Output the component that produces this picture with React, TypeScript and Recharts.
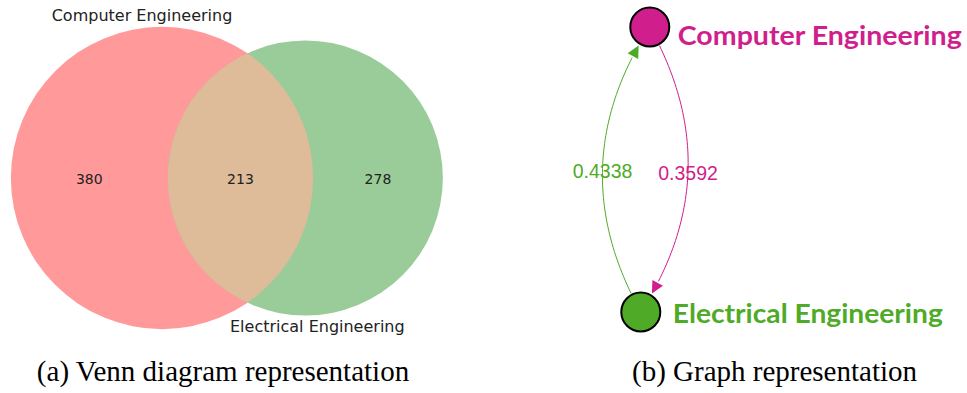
import { ReferenceLine, Scatter, ScatterChart, XAxis, YAxis } from "recharts";

// Set sizes for the Venn diagram
const setNames = ["Computer Engineering", "Electrical Engineering"];
const onlyComputer = 380;
const onlyElectrical = 278;
const bothSets = 213;

// Directed graph: nodes and weighted edges
const graphNodes = [
  { id: "Computer Engineering", x: 0.03, y: 1 },
  { id: "Electrical Engineering", x: -0.033, y: -1 },
];
const graphEdges = [
  { source: "Electrical Engineering", target: "Computer Engineering", weight: 0.4338 },
  { source: "Computer Engineering", target: "Electrical Engineering", weight: 0.3592 },
];

const MAGENTA = "#d01f8c";
const GREEN = "#4fab27";

// ---------- Venn geometry (area proportional circles) ----------
const rA = Math.sqrt((onlyComputer + bothSets) / Math.PI);
const rB = Math.sqrt((onlyElectrical + bothSets) / Math.PI);

function lensArea(d: number, r1: number, r2: number) {
  if (d >= r1 + r2) return 0;
  if (d <= Math.abs(r1 - r2)) return Math.PI * Math.min(r1, r2) ** 2;
  const a1 = Math.acos((d * d + r1 * r1 - r2 * r2) / (2 * d * r1));
  const a2 = Math.acos((d * d + r2 * r2 - r1 * r1) / (2 * d * r2));
  const k = Math.sqrt((-d + r1 + r2) * (d + r1 - r2) * (d - r1 + r2) * (d + r1 + r2));
  return r1 * r1 * a1 + r2 * r2 * a2 - 0.5 * k;
}

// bisection for the centre distance that gives the shared area
function solveDistance() {
  let lo = Math.abs(rA - rB);
  let hi = rA + rB;
  for (let i = 0; i < 80; i++) {
    const mid = (lo + hi) / 2;
    if (lensArea(mid, rA, rB) > bothSets) lo = mid;
    else hi = mid;
  }
  return (lo + hi) / 2;
}
const dist = solveDistance();

const vennCircles = [
  { name: setNames[0], x: 0, y: 0, r: rA, fill: "#ff999a" },
  { name: setNames[1], x: dist, y: 0, r: rB, fill: "#99cc99" },
];
const vennOverlap = [{ x: dist, y: 0, r: rB, fill: "#debb99" }];
const vennCounts = [
  { x: (-rA + dist - rB) / 2, y: 0, value: onlyComputer },
  { x: (dist - rB + rA) / 2, y: 0, value: bothSets },
  { x: (rA + dist + rB) / 2, y: 0, value: onlyElectrical },
];

const VENN_W = 460;
const VENN_H = 345;
const PX = 11; // pixels per data unit
const vennX: [number, number] = [-162 / PX, (VENN_W - 162) / PX];
const vennY: [number, number] = [-(VENN_H - 178) / PX, 178 / PX];

const VennCircle = (props: any) => {
  const { cx, cy, payload } = props;
  const r = payload.r * PX;
  const isA = payload.name === setNames[0];
  return (
    <g>
      {isA && (
        <defs>
          <clipPath id="venn-clip-a">
            <circle cx={cx} cy={cy} r={r} />
          </clipPath>
        </defs>
      )}
      <circle cx={cx} cy={cy} r={r} fill={payload.fill} />
      <text
        x={isA ? cx - 20 : cx + 12}
        y={isA ? cy - r - 6 : cy + r + 16}
        textAnchor="middle"
        fontFamily="DejaVu Sans"
        fontSize={16}
        fill="#222"
      >
        {payload.name}
      </text>
    </g>
  );
};

const VennLens = (props: any) => {
  const { cx, cy, payload } = props;
  return (
    <circle cx={cx} cy={cy} r={payload.r * PX} fill={payload.fill} clipPath="url(#venn-clip-a)" />
  );
};

const VennCount = (props: any) => (
  <text
    x={props.cx}
    y={props.cy}
    dy={5.5}
    textAnchor="middle"
    fontFamily="DejaVu Sans"
    fontSize={14}
    fill="#222"
  >
    {props.payload.value}
  </text>
);

// ---------- Graph ----------
const GRAPH_W = 427;
const GRAPH_H = 345;
const GPX = 142.5;
const graphX: [number, number] = [-105.5 / GPX, (GRAPH_W - 105.5) / GPX];
const graphY: [number, number] = [1 + 27 / GPX - GRAPH_H / GPX, 1 + 27 / GPX];
const NODE_R = 20.5;
const nodeColor: Record<string, string> = {
  "Computer Engineering": MAGENTA,
  "Electrical Engineering": GREEN,
};
// label placement: [dx, baseline dy, width]
const labelBox: Record<string, [number, number, number]> = {
  "Computer Engineering": [28, 18, 284],
  "Electrical Engineering": [32, 11, 270],
};

const GraphNode = (props: any) => {
  const { cx, cy, payload } = props;
  const color = nodeColor[payload.id];
  const [dx, dy, w] = labelBox[payload.id];
  return (
    <g>
      <circle cx={cx} cy={cy} r={NODE_R - 1} fill={color} stroke="#000" strokeWidth={2} />
      <text
        x={cx + dx}
        y={cy + dy}
        fontFamily="Lato"
        fontWeight="bold"
        fontSize={26}
        textLength={w}
        lengthAdjust="spacingAndGlyphs"
        fill={color}
      >
        {payload.id}
      </text>
    </g>
  );
};

// curved arc (quadratic, arc3 style) between two nodes, with arrow head
function makeEdgeShape(color: string, weight: number) {
  return (p: any) => {
    const { x1, y1, x2, y2 } = p;
    const rad = 0.3;
    const mx = (x1 + x2) / 2;
    const my = (y1 + y2) / 2;
    const dx = x2 - x1;
    const dy = y2 - y1;
    const qx = mx + rad * dy;
    const qy = my - rad * dx;
    const at = (t: number) => [
      (1 - t) * (1 - t) * x1 + 2 * (1 - t) * t * qx + t * t * x2,
      (1 - t) * (1 - t) * y1 + 2 * (1 - t) * t * qy + t * t * y2,
    ];
    let t0 = 0;
    while (t0 < 0.5 && Math.hypot(at(t0)[0] - x1, at(t0)[1] - y1) < NODE_R) t0 += 0.002;
    let t1 = 1;
    while (t1 > 0.5 && Math.hypot(at(t1)[0] - x2, at(t1)[1] - y2) < NODE_R + 1) t1 -= 0.002;
    const pts: number[][] = [];
    for (let i = 0; i <= 60; i++) pts.push(at(t0 + ((t1 - t0) * i) / 60));
    const tip = pts[pts.length - 1];
    const prev = at(t1 - 0.03);
    const ang = Math.atan2(tip[1] - prev[1], tip[0] - prev[0]);
    const len = 12;
    const half = 6;
    const bx = tip[0] - len * Math.cos(ang);
    const by = tip[1] - len * Math.sin(ang);
    const head = [
      tip,
      [bx + half * Math.sin(ang), by - half * Math.cos(ang)],
      [bx - half * Math.sin(ang), by + half * Math.cos(ang)],
    ];
    const line = pts
      .filter((q) => Math.hypot(q[0] - tip[0], q[1] - tip[1]) > len - 2)
      .map((q, i) => `${i ? "L" : "M"}${q[0]},${q[1]}`)
      .join(" ");
    const mid = at(0.5);
    return (
      <g>
        <path d={line} fill="none" stroke={color} strokeWidth={1} />
        <polygon points={head.map((q) => q.join(",")).join(" ")} fill={color} />
        <text
          x={mid[0]}
          y={mid[1]}
          dy={9.5}
          textAnchor="middle"
          fontFamily="Liberation Sans"
          fontSize={19.5}
          fill={color}
        >
          {weight.toFixed(4)}
        </text>
      </g>
    );
  };
}

const nodeById = (id: string) => graphNodes.find((n) => n.id === id)!;

const captionStyle: React.CSSProperties = {
  position: "absolute",
  top: 353,
  fontFamily: "Liberation Serif",
  fontSize: 29,
  color: "#000",
  whiteSpace: "nowrap",
  transform: "translateX(-50%)",
  lineHeight: "36px",
};

export default function App() {
  return (
    <div style={{ position: "absolute", left: 0, top: 0, width: 967, height: 393, background: "#fff" }}>
      <div style={{ position: "absolute", left: 0, top: 0 }}>
        <ScatterChart width={VENN_W} height={VENN_H} margin={{ top: 0, right: 0, bottom: 0, left: 0 }}>
          <XAxis type="number" dataKey="x" domain={vennX} hide allowDataOverflow />
          <YAxis type="number" dataKey="y" domain={vennY} hide allowDataOverflow />
          <Scatter data={vennCircles} shape={VennCircle} isAnimationActive={false} />
          <Scatter data={vennOverlap} shape={VennLens} isAnimationActive={false} />
          <Scatter data={vennCounts} shape={VennCount} isAnimationActive={false} />
        </ScatterChart>
      </div>
      <div style={{ position: "absolute", left: 540, top: 0 }}>
        <ScatterChart width={GRAPH_W} height={GRAPH_H} margin={{ top: 0, right: 0, bottom: 0, left: 0 }}>
          <XAxis type="number" dataKey="x" domain={graphX} hide allowDataOverflow />
          <YAxis type="number" dataKey="y" domain={graphY} hide allowDataOverflow />
          {graphEdges.map((e) => {
            const s = nodeById(e.source);
            const t = nodeById(e.target);
            return (
              <ReferenceLine
                key={e.source}
                segment={[
                  { x: s.x, y: s.y },
                  { x: t.x, y: t.y },
                ]}
                ifOverflow="visible"
                shape={makeEdgeShape(nodeColor[e.source], e.weight)}
              />
            );
          })}
          <Scatter data={graphNodes} shape={GraphNode} isAnimationActive={false} />
        </ScatterChart>
      </div>
      <div style={{ ...captionStyle, left: 223 }}>(a) Venn diagram representation</div>
      <div style={{ ...captionStyle, left: 774.5 }}>(b) Graph representation</div>
    </div>
  );
}
